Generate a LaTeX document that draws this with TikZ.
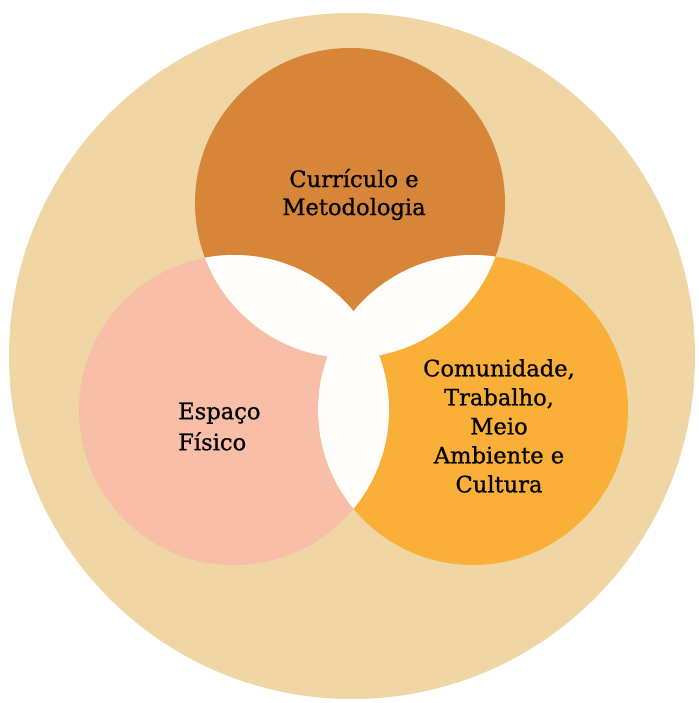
\documentclass[tikz,border=0pt]{standalone}
\usepackage{fontspec}
\setmainfont[RawFeature={embolden=0.9}]{DejaVu Serif}
\definecolor{sandbg}{HTML}{F0D5A5}
\definecolor{curfill}{HTML}{D78539}
\definecolor{espfill}{HTML}{F8BEA7}
\definecolor{comfill}{HTML}{FAAF38}
\definecolor{lensfill}{HTML}{FFFEFC}
\tikzset{venntext/.style={inner sep=0pt,align=center,font=\fontsize{22.6}{29}\selectfont}}
\begin{document}
\begin{tikzpicture}[x=1pt,y=-1pt]
\useasboundingbox (0,0) rectangle (698,703);
\coordinate (bg) at (352,356);
\coordinate (cur) at (350,203);
\coordinate (esp) at (234,410);
\coordinate (com) at (473,410);
\fill[sandbg] (bg) circle (343pt);
\fill[curfill] (cur) circle (155pt);
\fill[espfill] (esp) circle (155pt);
\fill[comfill] (com) circle (155pt);
\begin{scope}
\clip (cur) circle (155pt);
\fill[lensfill] (esp) circle (155pt);
\fill[lensfill] (com) circle (155pt);
\end{scope}
\begin{scope}
\clip (esp) circle (155pt);
\fill[lensfill] (com) circle (155pt);
\end{scope}
\node[venntext,font=\fontsize{22.6}{28}\selectfont] (curtext) at (354,194.5) {Currículo e\\Metodologia};
\node[venntext,align=left,anchor=west,font=\fontsize{22.6}{31}\selectfont] (esptext) at (178,426.6) {Espaço\\Físico};
\node[venntext] (comtext) at (499,425.9) {Comunidade,\\Trabalho,\\Meio\\Ambiente e\\Cultura};
\end{tikzpicture}
\end{document}
